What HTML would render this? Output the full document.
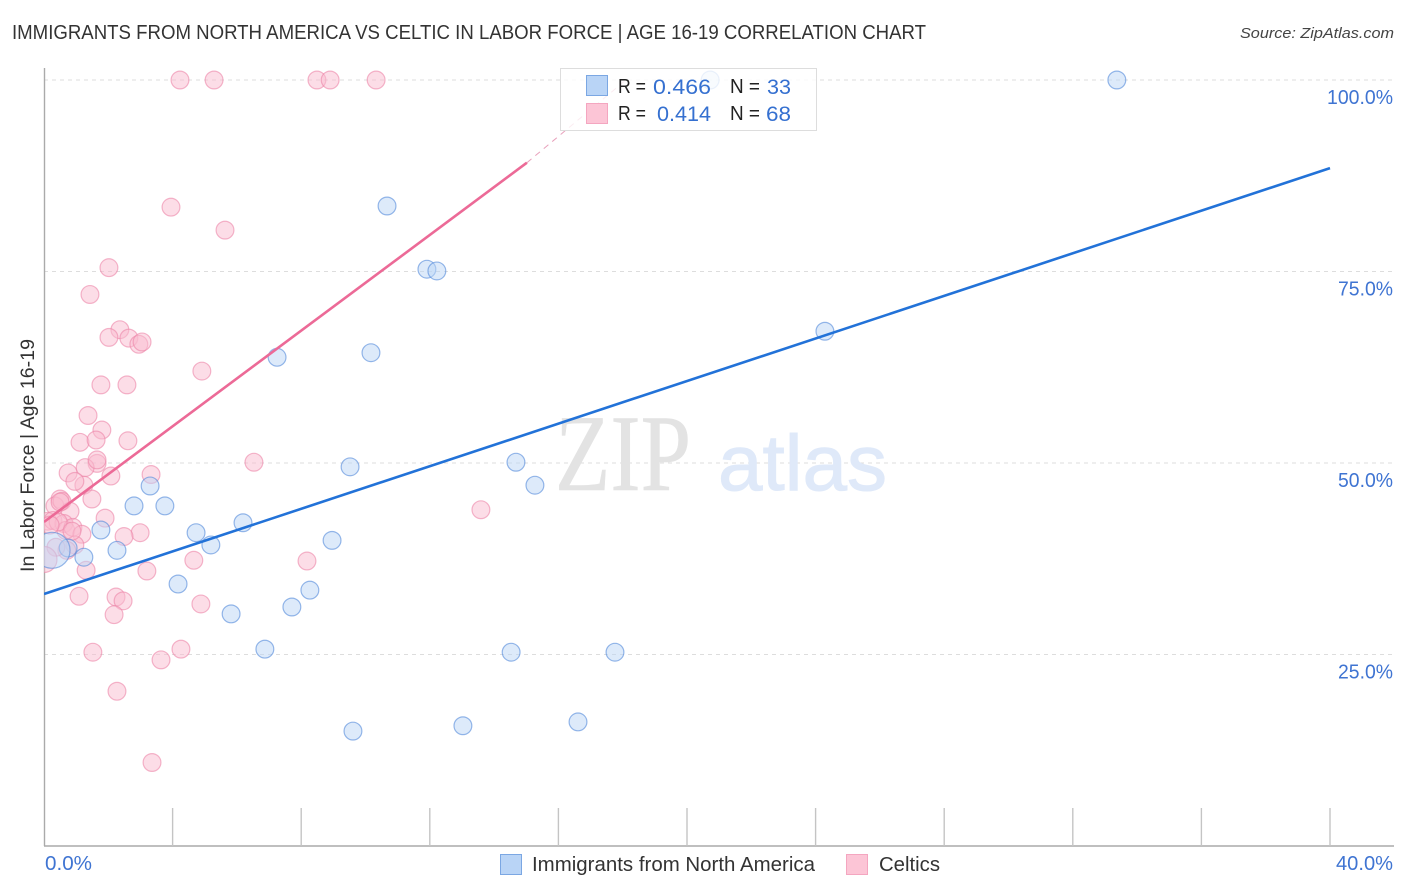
<!DOCTYPE html>
<html lang="en">
<head>
<meta charset="utf-8">
<title>Immigrants from North America vs Celtic in Labor Force | Age 16-19 Correlation Chart</title>
<style>
html,body{margin:0;padding:0;background:#fff;width:1406px;height:892px;overflow:hidden}
svg{display:block}
text{font-family:"Liberation Sans",sans-serif}
</style>
</head>
<body>
<svg id="chart" width="1406" height="892" viewBox="0 0 1406 892" xmlns="http://www.w3.org/2000/svg">
  <text x="12" y="39" font-size="20" fill="#333" textLength="914" lengthAdjust="spacingAndGlyphs">IMMIGRANTS FROM NORTH AMERICA VS CELTIC IN LABOR FORCE | AGE 16-19 CORRELATION CHART</text>
  <text x="1394" y="38" font-size="15" font-style="italic" fill="#444" text-anchor="end" textLength="154" lengthAdjust="spacingAndGlyphs">Source: ZipAtlas.com</text>
  <g id="grid"></g>
  <g>
    <text x="555" y="490" style="font-family:'Liberation Serif',serif" font-size="109" fill="#e3e3e3" stroke="#e3e3e3" stroke-width="0.6" textLength="136" lengthAdjust="spacingAndGlyphs">ZIP</text>
    <text x="718" y="490" font-size="79" fill="#dfe9f9" stroke="#dfe9f9" stroke-width="1" textLength="169" lengthAdjust="spacingAndGlyphs">atlas</text>
  </g>
  <g id="axes">
    <line x1="44.5" y1="68" x2="44.5" y2="846" stroke="#aaa" stroke-width="1.4"/>
    <line x1="44" y1="846" x2="1394" y2="846" stroke="#aaa" stroke-width="1.4"/>
  </g>
  <clipPath id="plot-clip"><rect x="44" y="60" width="1350" height="786"/></clipPath>
  <g id="marks" clip-path="url(#plot-clip)"></g>
  <g id="labels"></g>
  <text transform="translate(34,572) rotate(-90)" font-size="19" fill="#333" textLength="233" lengthAdjust="spacingAndGlyphs">In Labor Force | Age 16-19</text>

  <g>
    <rect x="560.5" y="68.5" width="256" height="62" fill="#fff" fill-opacity="0.8" stroke="#ddd" stroke-width="1"/>
    <rect x="586.5" y="75.5" width="21" height="20" fill="#b9d4f6" stroke="#7ba7e3"/>
    <rect x="586.5" y="103.5" width="21" height="20" fill="#fcc5d6" stroke="#f4a6c0"/>
    <g font-size="20" fill="#222">
      <text x="618" y="93" textLength="28" lengthAdjust="spacingAndGlyphs">R =</text>
      <text x="618" y="120" textLength="28" lengthAdjust="spacingAndGlyphs">R =</text>
      <text x="730" y="93" textLength="30" lengthAdjust="spacingAndGlyphs">N =</text>
      <text x="730" y="120" textLength="30" lengthAdjust="spacingAndGlyphs">N =</text>
    </g>
    <g font-size="21" fill="#3570d0">
      <text x="653" y="94" textLength="58" lengthAdjust="spacingAndGlyphs">0.466</text>
      <text x="657" y="121" textLength="54" lengthAdjust="spacingAndGlyphs">0.414</text>
      <text x="767" y="94" textLength="24" lengthAdjust="spacingAndGlyphs">33</text>
      <text x="766" y="121" textLength="25" lengthAdjust="spacingAndGlyphs">68</text>
    </g>
  </g>

  <g>
    <rect x="500.5" y="854.5" width="21" height="20" fill="#b9d4f6" stroke="#7ba7e3"/>
    <text x="532" y="871" font-size="20" fill="#333" textLength="283" lengthAdjust="spacingAndGlyphs">Immigrants from North America</text>
    <rect x="846.5" y="854.5" width="21" height="20" fill="#fcc5d6" stroke="#f4a6c0"/>
    <text x="879" y="871" font-size="20" fill="#333" textLength="61" lengthAdjust="spacingAndGlyphs">Celtics</text>
  </g>
</svg>
<script>
const immigrantsX = [20.72,33.37,10.67,11.91,12.22,24.29,7.25,10.17,9.52,14.68,15.27,3.30,2.80,3.76,4.73,6.19,5.19,8.96,1.77,2.27,0.75,1.24,4.17,8.27,7.71,5.82,6.87,14.53,17.76,9.61,13.03,16.61,0.25];
const immigrantsY = [100,100,83.55,75.3,75.07,67.2,63.8,64.4,49.5,50.1,47.1,47.0,44.4,44.4,40.9,42.2,39.3,39.9,41.25,38.6,38.9,37.7,34.2,33.4,31.2,30.3,25.7,25.3,25.3,15.0,15.7,16.2,38.6];
const celticsX = [4.23,5.29,8.49,8.90,10.33,3.95,5.63,2.02,1.43,2.36,2.02,2.64,2.95,3.05,4.91,1.77,2.58,1.37,1.80,1.12,1.62,2.61,1.65,1.28,0.75,1.24,0.96,2.08,3.33,6.53,1.49,13.59,0.50,0.34,0.56,0.81,1.90,0.12,0.28,0.62,0.68,0.90,1.18,2.99,2.49,0.96,0.71,0.37,4.66,8.18,1.31,3.20,1.09,2.24,2.46,2.18,4.88,1.52,4.26,3.64,2.27,3.36,0,0.44,0.19,1.65,0.50,0.87];
const celticsY = [100,100,100,100,100,83.4,80.4,75.5,72.0,67.4,66.4,66.3,65.5,65.8,62.0,60.2,60.2,56.2,54.3,52.7,53.0,52.9,49.95,49.4,48.7,47.1,47.6,48.3,48.5,50.1,45.3,43.9,45.3,44.4,45.0,43.7,42.8,42.4,42.5,42.1,41.2,41.6,40.7,40.9,40.4,39.3,38.6,39.0,37.3,37.2,36.0,35.9,32.6,32.5,32.0,30.2,31.6,25.3,25.7,24.3,20.2,10.9,37.4,42.3,41.9,50.4,44.9,41.1];
const immigrantsTrendX = [0,40];
const immigrantsTrendY = [32.9,88.5];
const celticsTrendX = [0,15.02];
const celticsTrendY = [42.3,89.2];
const celticsTrendDashX = [15.02,18.1];
const celticsTrendDashY = [89.2,100];
const yGridValues = [25,50,75,100];
const yTickLabels = ["25.0%","50.0%","75.0%","100.0%"];
const xTickValues = [0,4,8,12,16,20,24,28,32,36,40];
const xEdgeLabels = ["0.0%","40.0%"];

const NS = 'http://www.w3.org/2000/svg';
const xScale = v => 44 + v * 32.15;
const yScale = v => 846 - v * 7.66;
const grid = document.getElementById('grid');
const axes = document.getElementById('axes');
const marks = document.getElementById('marks');
const labels = document.getElementById('labels');

function make(tag, attrs, parent) {
  const el = document.createElementNS(NS, tag);
  for (const k in attrs) el.setAttribute(k, attrs[k]);
  parent.appendChild(el);
  return el;
}

yGridValues.forEach((v, i) => {
  const line = make('line', {x1: 44, x2: 1394, y1: yScale(v), y2: yScale(v), stroke: '#ddd', 'stroke-width': 1, 'stroke-dasharray': '4 4'}, grid);
  
  
  const t = make('text', {x: 1393, y: yScale(v) + 24, 'font-size': 20, fill: '#3f74d2', 'text-anchor': 'end', textLength: yTickLabels[i].length * 11, lengthAdjust: 'spacingAndGlyphs'}, labels);
  
  
  t.textContent = yTickLabels[i];
});

xTickValues.slice(1).forEach(v => {
  const tick = make('line', {x1: xScale(v), x2: xScale(v), y1: 808, y2: 846, stroke: '#c4c4c4', 'stroke-width': 1.4}, axes);
  
  
});

const xl0 = make('text', {x: 45, y: 870, 'font-size': 20, fill: '#3f74d2', textLength: 47, lengthAdjust: 'spacingAndGlyphs'}, labels);


xl0.textContent = xEdgeLabels[0];
const xl1 = make('text', {x: 1393, y: 870, 'font-size': 20, fill: '#3f74d2', 'text-anchor': 'end', textLength: 57, lengthAdjust: 'spacingAndGlyphs'}, labels);


xl1.textContent = xEdgeLabels[1];

function drawPoints(xs, ys, fill, stroke, name, bigIndex, bigR) {
  xs.forEach((x, i) => {
    const r = i === bigIndex ? bigR : 8.9;
    const c = make('circle', {cx: xScale(x), cy: yScale(ys[i]), r: r, fill: fill, 'fill-opacity': 0.5, stroke: stroke, 'stroke-opacity': 0.6, 'stroke-width': 1.2}, marks);
    
    
  });
}

drawPoints(celticsX, celticsY, '#f9bccf', '#ec85a9', 'celtics-point', 62, 13);
drawPoints(immigrantsX, immigrantsY, '#bcd6f6', '#5288da', 'immigrants-point', 32, 18);

const dash = make('line', {x1: xScale(celticsTrendDashX[0]), y1: yScale(celticsTrendDashY[0]), x2: xScale(celticsTrendDashX[1]), y2: yScale(celticsTrendDashY[1]), stroke: '#e8a0bb', 'stroke-width': 1, 'stroke-dasharray': '6 5'}, marks);



const pinkLine = make('line', {x1: xScale(celticsTrendX[0]), y1: yScale(celticsTrendY[0]), x2: xScale(celticsTrendX[1]), y2: yScale(celticsTrendY[1]), stroke: '#ec6a97', 'stroke-width': 2.6}, marks);



const blueLine = make('line', {x1: xScale(immigrantsTrendX[0]), y1: yScale(immigrantsTrendY[0]), x2: xScale(immigrantsTrendX[1]), y2: yScale(immigrantsTrendY[1]), stroke: '#2272d8', 'stroke-width': 2.6}, marks);


</script>
</body>
</html>
